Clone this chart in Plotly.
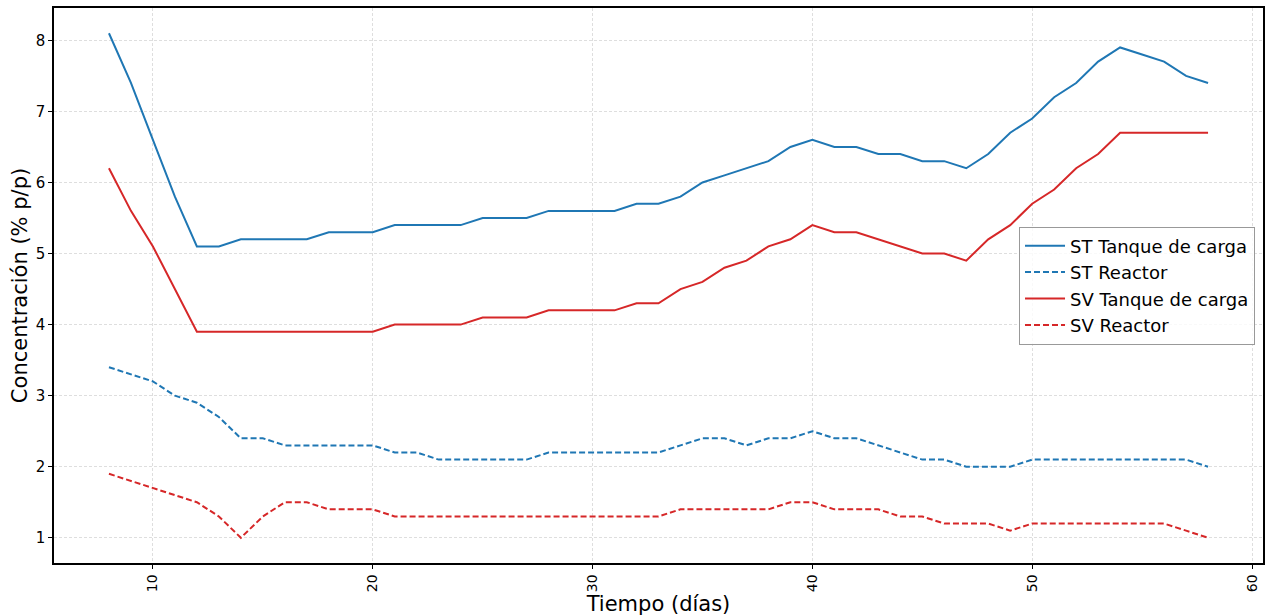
import plotly.graph_objects as go

dias = list(range(8, 59))

st_tanque = [8.1, 7.4, 6.6, 5.8, 5.1, 5.1, 5.2, 5.2, 5.2, 5.2, 5.3, 5.3, 5.3, 5.4, 5.4, 5.4, 5.4,
             5.5, 5.5, 5.5, 5.6, 5.6, 5.6, 5.6, 5.7, 5.7, 5.8, 6.0, 6.1, 6.2, 6.3, 6.5, 6.6,
             6.5, 6.5, 6.4, 6.4, 6.3, 6.3, 6.2, 6.4, 6.7, 6.9, 7.2, 7.4, 7.7, 7.9, 7.8, 7.7, 7.5, 7.4]
st_reactor = [3.4, 3.3, 3.2, 3.0, 2.9, 2.7, 2.4, 2.4, 2.3, 2.3, 2.3, 2.3, 2.3, 2.2, 2.2, 2.1, 2.1,
              2.1, 2.1, 2.1, 2.2, 2.2, 2.2, 2.2, 2.2, 2.2, 2.3, 2.4, 2.4, 2.3, 2.4, 2.4, 2.5,
              2.4, 2.4, 2.3, 2.2, 2.1, 2.1, 2.0, 2.0, 2.0, 2.1, 2.1, 2.1, 2.1, 2.1, 2.1, 2.1, 2.1, 2.0]
sv_tanque = [6.2, 5.6, 5.1, 4.5, 3.9, 3.9, 3.9, 3.9, 3.9, 3.9, 3.9, 3.9, 3.9, 4.0, 4.0, 4.0, 4.0,
             4.1, 4.1, 4.1, 4.2, 4.2, 4.2, 4.2, 4.3, 4.3, 4.5, 4.6, 4.8, 4.9, 5.1, 5.2, 5.4,
             5.3, 5.3, 5.2, 5.1, 5.0, 5.0, 4.9, 5.2, 5.4, 5.7, 5.9, 6.2, 6.4, 6.7, 6.7, 6.7, 6.7, 6.7]
sv_reactor = [1.9, 1.8, 1.7, 1.6, 1.5, 1.3, 1.0, 1.3, 1.5, 1.5, 1.4, 1.4, 1.4, 1.3, 1.3, 1.3, 1.3,
              1.3, 1.3, 1.3, 1.3, 1.3, 1.3, 1.3, 1.3, 1.3, 1.4, 1.4, 1.4, 1.4, 1.4, 1.5, 1.5,
              1.4, 1.4, 1.4, 1.3, 1.3, 1.2, 1.2, 1.2, 1.1, 1.2, 1.2, 1.2, 1.2, 1.2, 1.2, 1.2, 1.1, 1.0]

series = [
    ("ST Tanque de carga", st_tanque, "#1f77b4", "solid"),
    ("ST Reactor", st_reactor, "#1f77b4", "dash"),
    ("SV Tanque de carga", sv_tanque, "#d62728", "solid"),
    ("SV Reactor", sv_reactor, "#d62728", "dash"),
]

fig = go.Figure()
for name, vals, color, dash in series:
    fig.add_trace(go.Scatter(x=dias, y=vals, mode="lines", name=name,
                             line=dict(color=color, width=2,
                                       dash="6px,3px" if dash == "dash" else "solid")))

font = "DejaVu Sans, sans-serif"
fig.update_layout(
    width=1266, height=616,
    margin=dict(l=54, r=1, t=8, b=53),
    paper_bgcolor="white", plot_bgcolor="white",
    font=dict(family=font, color="black", size=13),
    legend=dict(x=0.9934, y=0.5, xanchor="right", yanchor="middle",
                bgcolor="rgba(255,255,255,0.8)", bordercolor="#999999", borderwidth=1,
                font=dict(size=18, family=font), tracegroupgap=0, itemwidth=40),
    xaxis=dict(
        range=[5.5, 60.5], tickvals=[10, 20, 30, 40, 50, 60], tickangle=-90,
        tickfont=dict(size=14),
        showline=True, linecolor="black", linewidth=1.5, mirror=True,
        ticks="outside", ticklen=4, tickcolor="black",
        showgrid=True, gridcolor="#dedede", griddash="3px,2px", gridwidth=1,
        zeroline=False,
        title=dict(text="Tiempo (días)", font=dict(size=21), standoff=1),
    ),
    yaxis=dict(
        range=[0.645, 8.455], tickvals=[1, 2, 3, 4, 5, 6, 7, 8],
        tickfont=dict(size=15),
        showline=True, linecolor="black", linewidth=1.5, mirror=True,
        ticks="outside", ticklen=4, tickcolor="black",
        showgrid=True, gridcolor="#dedede", griddash="3px,2px", gridwidth=1,
        zeroline=False,
        title=dict(text="Concentración (% p/p)", font=dict(size=21), standoff=2),
    ),
)

fig.write_html("out.html")
